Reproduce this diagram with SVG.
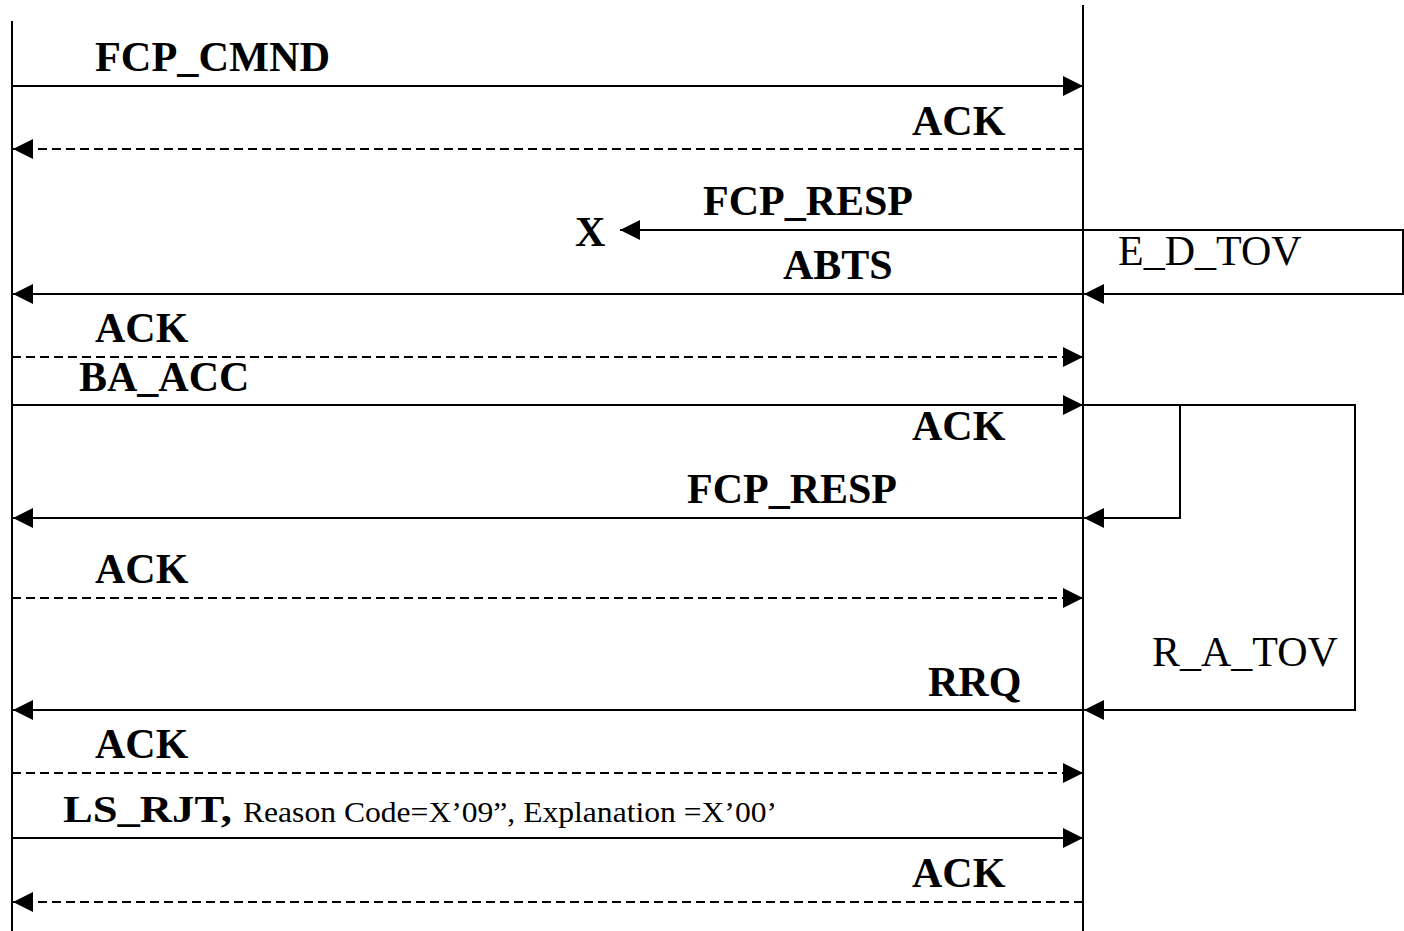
<svg xmlns="http://www.w3.org/2000/svg" width="1404" height="931" viewBox="0 0 1404 931">
  <style>
    .life { stroke: #000; stroke-width: 2; fill: none; }
    .msg { stroke: #000; stroke-width: 2; fill: none; }
    .dash { stroke-dasharray: 9 5; }
    .lbl { font-family: "Liberation Serif", "Times New Roman", serif; font-weight: bold; font-size: 42px; fill: #000; }
    .tmr { font-family: "Liberation Serif", "Times New Roman", serif; font-size: 42px; fill: #000; }
    .small { font-family: "Liberation Serif", "Times New Roman", serif; font-size: 29px; fill: #000; }
  </style>
  <defs>
    <marker id="head" viewBox="0 0 20 20" refX="20" refY="10" markerWidth="20" markerHeight="20" markerUnits="userSpaceOnUse" orient="auto">
      <path d="M0,0 L20,10 L0,20 Z" fill="#000"/>
    </marker>
  </defs>
  <rect width="1404" height="931" fill="#fff"/>

  <!-- lifelines -->
  <g id="initiator">
    <line class="life" x1="12" y1="21" x2="12" y2="931"/>
  </g>
  <g id="target">
    <line class="life" x1="1083" y1="5" x2="1083" y2="931"/>
  </g>

  <!-- message connectors -->
  <g id="connectors">
    <line class="msg" x1="12" y1="86" x2="1083" y2="86" marker-end="url(#head)"/>
    <line class="msg dash" x1="1083" y1="149" x2="13" y2="149" marker-end="url(#head)"/>
    <line class="msg" x1="1083" y1="230" x2="620" y2="230" marker-end="url(#head)"/>
    <polyline class="msg" points="1083,230 1403,230 1403,294 1084,294" marker-end="url(#head)"/>
    <line class="msg" x1="1083" y1="294" x2="13" y2="294" marker-end="url(#head)"/>
    <line class="msg dash" x1="12" y1="357" x2="1083" y2="357" marker-end="url(#head)"/>
    <line class="msg" x1="12" y1="405" x2="1083" y2="405" marker-end="url(#head)"/>
    <polyline class="msg" points="1083,405 1180,405 1180,518 1084,518" marker-end="url(#head)"/>
    <polyline class="msg" points="1180,405 1355,405 1355,710 1084,710" marker-end="url(#head)"/>
    <line class="msg" x1="1083" y1="518" x2="13" y2="518" marker-end="url(#head)"/>
    <line class="msg dash" x1="12" y1="598" x2="1083" y2="598" marker-end="url(#head)"/>
    <line class="msg" x1="1083" y1="710" x2="13" y2="710" marker-end="url(#head)"/>
    <line class="msg dash" x1="12" y1="773" x2="1083" y2="773" marker-end="url(#head)"/>
    <line class="msg" x1="12" y1="838" x2="1083" y2="838" marker-end="url(#head)"/>
    <line class="msg dash" x1="1083" y1="902" x2="13" y2="902" marker-end="url(#head)"/>
  </g>

  <!-- message labels -->
  <g id="labels">
    <text class="lbl" x="95" y="71" textLength="235" lengthAdjust="spacingAndGlyphs">FCP_CMND</text>
    <text class="lbl" x="912" y="135">ACK</text>
    <text class="lbl" x="703" y="215">FCP_RESP</text>
    <text class="lbl" x="575" y="246">X</text>
    <text class="lbl" x="783" y="279">ABTS</text>
    <text class="lbl" x="95" y="342">ACK</text>
    <text class="lbl" x="79" y="391">BA_ACC</text>
    <text class="lbl" x="912" y="440">ACK</text>
    <text class="lbl" x="687" y="503">FCP_RESP</text>
    <text class="lbl" x="95" y="583">ACK</text>
    <text class="lbl" x="928" y="696">RRQ</text>
    <text class="lbl" x="95" y="758">ACK</text>
    <text class="lbl" x="63" y="822" style="font-size:38px" textLength="169" lengthAdjust="spacingAndGlyphs">LS_RJT,</text>
    <text class="small" x="243" y="822" textLength="534" lengthAdjust="spacingAndGlyphs">Reason Code=X’09”, Explanation =X’00’</text>
    <text class="lbl" x="912" y="887">ACK</text>
  </g>

  <!-- timers -->
  <g id="timers">
    <text class="tmr" x="1118" y="265">E_D_TOV</text>
    <text class="tmr" x="1152" y="666">R_A_TOV</text>
  </g>
</svg>
